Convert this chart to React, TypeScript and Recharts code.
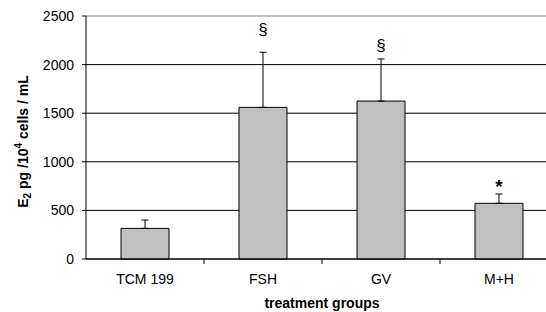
import { BarChart, Bar, XAxis, YAxis, CartesianGrid, ErrorBar, ReferenceDot, ReferenceLine, Label } from 'recharts'

const groups = ['TCM 199', 'FSH', 'GV', 'M+H']
const e2Means = [315, 1560, 1625, 573]
const e2Errors = [86, 567, 433, 96]
const marks = ['', '§', '§', '*']
const markLevels = [0, 2366, 2202, 745]
const yTicks = [0, 500, 1000, 1500, 2000, 2500]

const data = groups.map((g, i) => ({
  group: g,
  mean: e2Means[i],
  err: [0, e2Errors[i]],
}))

const FONT = '"Liberation Sans", Arial, sans-serif'

function GroupTick(props: any) {
  const { x, y, payload, index } = props
  const half = payload?.offset || 59
  return (
    <g>
      <text x={x} y={y} dy={17} textAnchor="middle" fontSize={14} fontFamily={FONT} fill="#000">
        {payload.value}
      </text>
      {index < groups.length - 1 && (
        <line x1={x + half} x2={x + half} y1={y - 8} y2={y - 3} stroke="#000" />
      )}
    </g>
  )
}

function YTitle(props: any) {
  const vb = props.viewBox || { x: 0, y: 16, height: 243 }
  const cx = 28
  const cy = vb.y + vb.height / 2 + 4
  return (
    <text
      x={cx}
      y={cy}
      transform={`rotate(-90 ${cx} ${cy})`}
      textAnchor="middle"
      fontSize={14}
      fontWeight="bold"
      fontFamily={FONT}
      fill="#000"
    >
      E<tspan fontSize={10} dy={3}>2</tspan>
      <tspan dy={-3}> pg /10</tspan>
      <tspan fontSize={10} dy={-6}>4</tspan>
      <tspan dy={6}> cells / mL</tspan>
    </text>
  )
}

export default function App() {
  return (
    <div style={{ position: 'fixed', left: 0, top: 0, width: 546, height: 312, overflow: 'hidden', background: '#fff' }}>
      <BarChart width={570} height={312} data={data} margin={{ top: 16, right: 12, bottom: 0, left: 0 }}>
        <CartesianGrid vertical={false} stroke="#000" strokeWidth={1} />
        <ReferenceLine y={2500} stroke="#c0c0c0" strokeWidth={2} />
        <XAxis
          dataKey="group"
          height={53}
          tickLine={false}
          axisLine={{ stroke: '#000' }}
          tick={<GroupTick />}
          interval={0}
        >
          <Label
            value="treatment groups"
            position="insideBottom"
            offset={4}
            fontSize={14}
            fontWeight="bold"
            fontFamily={FONT}
            fill="#000"
          />
        </XAxis>
        <YAxis
          width={86}
          domain={[0, 2500]}
          ticks={yTicks}
          interval={0}
          tickSize={4}
          tickMargin={8}
          tickLine={{ stroke: '#000' }}
          axisLine={{ stroke: '#000' }}
          tick={{ fontSize: 14, fontFamily: FONT, fill: '#000' }}
          label={<YTitle />}
        />
        <Bar dataKey="mean" fill="#c0c0c0" stroke="#000" strokeWidth={1} barSize={48} isAnimationActive={false}>
          <ErrorBar dataKey="err" width={3.5} stroke="#000" strokeWidth={1} direction="y" />
        </Bar>
        {groups.map((g, i) =>
          marks[i] ? (
            <ReferenceDot
              key={g}
              x={g}
              y={markLevels[i]}
              r={0}
              stroke="none"
              fill="none"
              label={{
                value: marks[i],
                position: 'center',
                fontSize: marks[i] === '*' ? 19 : 17,
                fontWeight: marks[i] === '*' ? 'bold' : 'normal',
                fontFamily: FONT,
                fill: '#000',
              }}
            />
          ) : null
        )}
      </BarChart>
    </div>
  )
}
